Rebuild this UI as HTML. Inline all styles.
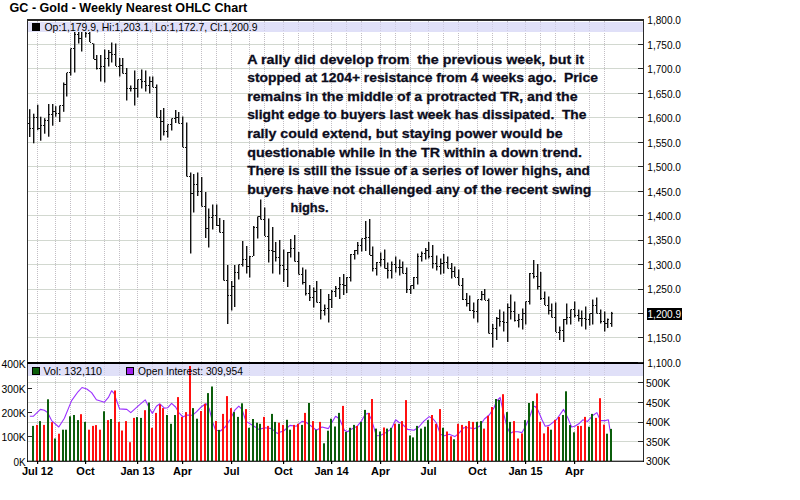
<!DOCTYPE html>
<html><head><meta charset="utf-8"><style>
html,body{margin:0;padding:0;background:#fff;width:800px;height:500px;overflow:hidden;position:relative}
</style></head><body>
<svg width="800" height="500" viewBox="0 0 800 500" style="position:absolute;left:0;top:0">
<rect width="800" height="500" fill="#fff"/>
<rect x="28" y="44" width="610" height="1" fill="#d2d8d0"/>
<rect x="28" y="68" width="610" height="1" fill="#d2d8d0"/>
<rect x="28" y="93" width="610" height="1" fill="#d2d8d0"/>
<rect x="28" y="117" width="610" height="1" fill="#d2d8d0"/>
<rect x="28" y="142" width="610" height="1" fill="#d2d8d0"/>
<rect x="28" y="166" width="610" height="1" fill="#d2d8d0"/>
<rect x="28" y="191" width="610" height="1" fill="#d2d8d0"/>
<rect x="28" y="215" width="610" height="1" fill="#d2d8d0"/>
<rect x="28" y="240" width="610" height="1" fill="#d2d8d0"/>
<rect x="28" y="264" width="610" height="1" fill="#d2d8d0"/>
<rect x="28" y="289" width="610" height="1" fill="#d2d8d0"/>
<rect x="28" y="313" width="610" height="1" fill="#d2d8d0"/>
<rect x="28" y="337" width="610" height="1" fill="#d2d8d0"/>
<rect x="28" y="382" width="610" height="1" fill="#d2d8d0"/>
<rect x="28" y="402" width="610" height="1" fill="#d2d8d0"/>
<rect x="28" y="422" width="610" height="1" fill="#d2d8d0"/>
<rect x="28" y="441" width="610" height="1" fill="#d2d8d0"/>
<line x1="37.5" y1="21" x2="37.5" y2="461" stroke="#c2bec4" stroke-width="1" stroke-dasharray="1,1"/>
<line x1="55.5" y1="21" x2="55.5" y2="461" stroke="#c2bec4" stroke-width="1" stroke-dasharray="1,1"/>
<line x1="70.5" y1="21" x2="70.5" y2="461" stroke="#c2bec4" stroke-width="1" stroke-dasharray="1,1"/>
<line x1="85.5" y1="21" x2="85.5" y2="461" stroke="#c2bec4" stroke-width="1" stroke-dasharray="1,1"/>
<line x1="104.5" y1="21" x2="104.5" y2="461" stroke="#c2bec4" stroke-width="1" stroke-dasharray="1,1"/>
<line x1="119.5" y1="21" x2="119.5" y2="461" stroke="#c2bec4" stroke-width="1" stroke-dasharray="1,1"/>
<line x1="137.5" y1="21" x2="137.5" y2="461" stroke="#c2bec4" stroke-width="1" stroke-dasharray="1,1"/>
<line x1="152.5" y1="21" x2="152.5" y2="461" stroke="#c2bec4" stroke-width="1" stroke-dasharray="1,1"/>
<line x1="167.5" y1="21" x2="167.5" y2="461" stroke="#c2bec4" stroke-width="1" stroke-dasharray="1,1"/>
<line x1="182.5" y1="21" x2="182.5" y2="461" stroke="#c2bec4" stroke-width="1" stroke-dasharray="1,1"/>
<line x1="201.5" y1="21" x2="201.5" y2="461" stroke="#c2bec4" stroke-width="1" stroke-dasharray="1,1"/>
<line x1="216.5" y1="21" x2="216.5" y2="461" stroke="#c2bec4" stroke-width="1" stroke-dasharray="1,1"/>
<line x1="231.5" y1="21" x2="231.5" y2="461" stroke="#c2bec4" stroke-width="1" stroke-dasharray="1,1"/>
<line x1="249.5" y1="21" x2="249.5" y2="461" stroke="#c2bec4" stroke-width="1" stroke-dasharray="1,1"/>
<line x1="264.5" y1="21" x2="264.5" y2="461" stroke="#c2bec4" stroke-width="1" stroke-dasharray="1,1"/>
<line x1="283.5" y1="21" x2="283.5" y2="461" stroke="#c2bec4" stroke-width="1" stroke-dasharray="1,1"/>
<line x1="298.5" y1="21" x2="298.5" y2="461" stroke="#c2bec4" stroke-width="1" stroke-dasharray="1,1"/>
<line x1="313.5" y1="21" x2="313.5" y2="461" stroke="#c2bec4" stroke-width="1" stroke-dasharray="1,1"/>
<line x1="331.5" y1="21" x2="331.5" y2="461" stroke="#c2bec4" stroke-width="1" stroke-dasharray="1,1"/>
<line x1="346.5" y1="21" x2="346.5" y2="461" stroke="#c2bec4" stroke-width="1" stroke-dasharray="1,1"/>
<line x1="361.5" y1="21" x2="361.5" y2="461" stroke="#c2bec4" stroke-width="1" stroke-dasharray="1,1"/>
<line x1="380.5" y1="21" x2="380.5" y2="461" stroke="#c2bec4" stroke-width="1" stroke-dasharray="1,1"/>
<line x1="395.5" y1="21" x2="395.5" y2="461" stroke="#c2bec4" stroke-width="1" stroke-dasharray="1,1"/>
<line x1="410.5" y1="21" x2="410.5" y2="461" stroke="#c2bec4" stroke-width="1" stroke-dasharray="1,1"/>
<line x1="428.5" y1="21" x2="428.5" y2="461" stroke="#c2bec4" stroke-width="1" stroke-dasharray="1,1"/>
<line x1="443.5" y1="21" x2="443.5" y2="461" stroke="#c2bec4" stroke-width="1" stroke-dasharray="1,1"/>
<line x1="458.5" y1="21" x2="458.5" y2="461" stroke="#c2bec4" stroke-width="1" stroke-dasharray="1,1"/>
<line x1="477.5" y1="21" x2="477.5" y2="461" stroke="#c2bec4" stroke-width="1" stroke-dasharray="1,1"/>
<line x1="492.5" y1="21" x2="492.5" y2="461" stroke="#c2bec4" stroke-width="1" stroke-dasharray="1,1"/>
<line x1="507.5" y1="21" x2="507.5" y2="461" stroke="#c2bec4" stroke-width="1" stroke-dasharray="1,1"/>
<line x1="525.5" y1="21" x2="525.5" y2="461" stroke="#c2bec4" stroke-width="1" stroke-dasharray="1,1"/>
<line x1="540.5" y1="21" x2="540.5" y2="461" stroke="#c2bec4" stroke-width="1" stroke-dasharray="1,1"/>
<line x1="555.5" y1="21" x2="555.5" y2="461" stroke="#c2bec4" stroke-width="1" stroke-dasharray="1,1"/>
<line x1="574.5" y1="21" x2="574.5" y2="461" stroke="#c2bec4" stroke-width="1" stroke-dasharray="1,1"/>
<line x1="589.5" y1="21" x2="589.5" y2="461" stroke="#c2bec4" stroke-width="1" stroke-dasharray="1,1"/>
<line x1="604.5" y1="21" x2="604.5" y2="461" stroke="#c2bec4" stroke-width="1" stroke-dasharray="1,1"/>
<rect x="29" y="109.2" width="1.4" height="27.8" fill="#111"/>
<rect x="28" y="123" width="1" height="1" fill="#111"/>
<rect x="30" y="128" width="1" height="1" fill="#111"/>
<rect x="33" y="113.7" width="1.4" height="29.6" fill="#111"/>
<rect x="32" y="128" width="1" height="1" fill="#111"/>
<rect x="34" y="117" width="1" height="1" fill="#111"/>
<rect x="37" y="104.7" width="1.4" height="25.5" fill="#111"/>
<rect x="36" y="117" width="1" height="1" fill="#111"/>
<rect x="38" y="128" width="1" height="1" fill="#111"/>
<rect x="40" y="116.7" width="1.4" height="24.0" fill="#111"/>
<rect x="39" y="128" width="1" height="1" fill="#111"/>
<rect x="41" y="125" width="1" height="1" fill="#111"/>
<rect x="44" y="118.2" width="1.4" height="15.5" fill="#111"/>
<rect x="43" y="125" width="1" height="1" fill="#111"/>
<rect x="45" y="120" width="1" height="1" fill="#111"/>
<rect x="48" y="104.0" width="1.4" height="32.7" fill="#111"/>
<rect x="47" y="120" width="1" height="1" fill="#111"/>
<rect x="49" y="114" width="1" height="1" fill="#111"/>
<rect x="52" y="104.0" width="1.4" height="21.7" fill="#111"/>
<rect x="51" y="114" width="1" height="1" fill="#111"/>
<rect x="53" y="111" width="1" height="1" fill="#111"/>
<rect x="55" y="106.2" width="1.4" height="10.5" fill="#111"/>
<rect x="54" y="111" width="1" height="1" fill="#111"/>
<rect x="56" y="113" width="1" height="1" fill="#111"/>
<rect x="59" y="105.5" width="1.4" height="16.5" fill="#111"/>
<rect x="58" y="113" width="1" height="1" fill="#111"/>
<rect x="60" y="105" width="1" height="1" fill="#111"/>
<rect x="63" y="82.5" width="1.4" height="29.3" fill="#111"/>
<rect x="62" y="105" width="1" height="1" fill="#111"/>
<rect x="64" y="84" width="1" height="1" fill="#111"/>
<rect x="66" y="72.8" width="1.4" height="23.7" fill="#111"/>
<rect x="65" y="84" width="1" height="1" fill="#111"/>
<rect x="67" y="72" width="1" height="1" fill="#111"/>
<rect x="70" y="48.5" width="1.4" height="27.0" fill="#111"/>
<rect x="69" y="72" width="1" height="1" fill="#111"/>
<rect x="71" y="48" width="1" height="1" fill="#111"/>
<rect x="74" y="25.0" width="1.4" height="47.5" fill="#111"/>
<rect x="73" y="48" width="1" height="1" fill="#111"/>
<rect x="75" y="34" width="1" height="1" fill="#111"/>
<rect x="78" y="25.0" width="1.4" height="18.5" fill="#111"/>
<rect x="77" y="34" width="1" height="1" fill="#111"/>
<rect x="79" y="38" width="1" height="1" fill="#111"/>
<rect x="81" y="25.0" width="1.4" height="26.5" fill="#111"/>
<rect x="80" y="38" width="1" height="1" fill="#111"/>
<rect x="82" y="31" width="1" height="1" fill="#111"/>
<rect x="85" y="25.0" width="1.4" height="12.5" fill="#111"/>
<rect x="84" y="31" width="1" height="1" fill="#111"/>
<rect x="86" y="33" width="1" height="1" fill="#111"/>
<rect x="89" y="25.0" width="1.4" height="17.0" fill="#111"/>
<rect x="88" y="33" width="1" height="1" fill="#111"/>
<rect x="90" y="42" width="1" height="1" fill="#111"/>
<rect x="93" y="43.5" width="1.4" height="15.5" fill="#111"/>
<rect x="92" y="43" width="1" height="1" fill="#111"/>
<rect x="94" y="59" width="1" height="1" fill="#111"/>
<rect x="96" y="55.0" width="1.4" height="14.5" fill="#111"/>
<rect x="95" y="59" width="1" height="1" fill="#111"/>
<rect x="97" y="68" width="1" height="1" fill="#111"/>
<rect x="100" y="55.0" width="1.4" height="26.5" fill="#111"/>
<rect x="99" y="68" width="1" height="1" fill="#111"/>
<rect x="101" y="66" width="1" height="1" fill="#111"/>
<rect x="104" y="49.5" width="1.4" height="33.0" fill="#111"/>
<rect x="103" y="66" width="1" height="1" fill="#111"/>
<rect x="105" y="58" width="1" height="1" fill="#111"/>
<rect x="108" y="50.0" width="1.4" height="16.5" fill="#111"/>
<rect x="107" y="58" width="1" height="1" fill="#111"/>
<rect x="109" y="52" width="1" height="1" fill="#111"/>
<rect x="111" y="42.5" width="1.4" height="20.0" fill="#111"/>
<rect x="110" y="52" width="1" height="1" fill="#111"/>
<rect x="112" y="54" width="1" height="1" fill="#111"/>
<rect x="115" y="43.5" width="1.4" height="22.5" fill="#111"/>
<rect x="114" y="54" width="1" height="1" fill="#111"/>
<rect x="116" y="66" width="1" height="1" fill="#111"/>
<rect x="119" y="58.0" width="1.4" height="18.5" fill="#111"/>
<rect x="118" y="66" width="1" height="1" fill="#111"/>
<rect x="120" y="65" width="1" height="1" fill="#111"/>
<rect x="122" y="58.0" width="1.4" height="15.5" fill="#111"/>
<rect x="121" y="65" width="1" height="1" fill="#111"/>
<rect x="123" y="73" width="1" height="1" fill="#111"/>
<rect x="126" y="68.0" width="1.4" height="32.5" fill="#111"/>
<rect x="125" y="73" width="1" height="1" fill="#111"/>
<rect x="127" y="88" width="1" height="1" fill="#111"/>
<rect x="130" y="85.5" width="1.4" height="6.0" fill="#111"/>
<rect x="129" y="88" width="1" height="1" fill="#111"/>
<rect x="131" y="88" width="1" height="1" fill="#111"/>
<rect x="134" y="70.5" width="1.4" height="35.0" fill="#111"/>
<rect x="133" y="88" width="1" height="1" fill="#111"/>
<rect x="135" y="88" width="1" height="1" fill="#111"/>
<rect x="137" y="79.5" width="1.4" height="18.0" fill="#111"/>
<rect x="136" y="88" width="1" height="1" fill="#111"/>
<rect x="138" y="79" width="1" height="1" fill="#111"/>
<rect x="141" y="69.5" width="1.4" height="19.0" fill="#111"/>
<rect x="140" y="79" width="1" height="1" fill="#111"/>
<rect x="142" y="81" width="1" height="1" fill="#111"/>
<rect x="145" y="70.5" width="1.4" height="21.0" fill="#111"/>
<rect x="144" y="81" width="1" height="1" fill="#111"/>
<rect x="146" y="85" width="1" height="1" fill="#111"/>
<rect x="149" y="76.5" width="1.4" height="17.0" fill="#111"/>
<rect x="148" y="85" width="1" height="1" fill="#111"/>
<rect x="150" y="81" width="1" height="1" fill="#111"/>
<rect x="152" y="76.5" width="1.4" height="10.5" fill="#111"/>
<rect x="151" y="81" width="1" height="1" fill="#111"/>
<rect x="153" y="87" width="1" height="1" fill="#111"/>
<rect x="156" y="84.5" width="1.4" height="33.0" fill="#111"/>
<rect x="155" y="87" width="1" height="1" fill="#111"/>
<rect x="157" y="117" width="1" height="1" fill="#111"/>
<rect x="160" y="110.0" width="1.4" height="30.5" fill="#111"/>
<rect x="159" y="117" width="1" height="1" fill="#111"/>
<rect x="161" y="121" width="1" height="1" fill="#111"/>
<rect x="163" y="108.0" width="1.4" height="27.5" fill="#111"/>
<rect x="162" y="121" width="1" height="1" fill="#111"/>
<rect x="164" y="131" width="1" height="1" fill="#111"/>
<rect x="167" y="124.5" width="1.4" height="13.0" fill="#111"/>
<rect x="166" y="131" width="1" height="1" fill="#111"/>
<rect x="168" y="124" width="1" height="1" fill="#111"/>
<rect x="171" y="118.5" width="1.4" height="12.0" fill="#111"/>
<rect x="170" y="124" width="1" height="1" fill="#111"/>
<rect x="172" y="118" width="1" height="1" fill="#111"/>
<rect x="175" y="110.0" width="1.4" height="13.0" fill="#111"/>
<rect x="174" y="118" width="1" height="1" fill="#111"/>
<rect x="176" y="117" width="1" height="1" fill="#111"/>
<rect x="178" y="112.0" width="1.4" height="11.5" fill="#111"/>
<rect x="177" y="117" width="1" height="1" fill="#111"/>
<rect x="179" y="123" width="1" height="1" fill="#111"/>
<rect x="182" y="116.5" width="1.4" height="30.5" fill="#111"/>
<rect x="181" y="123" width="1" height="1" fill="#111"/>
<rect x="183" y="147" width="1" height="1" fill="#111"/>
<rect x="186" y="122.5" width="1.4" height="54.0" fill="#111"/>
<rect x="185" y="147" width="1" height="1" fill="#111"/>
<rect x="187" y="176" width="1" height="1" fill="#111"/>
<rect x="190" y="172.5" width="1.4" height="81.0" fill="#111"/>
<rect x="189" y="176" width="1" height="1" fill="#111"/>
<rect x="191" y="193" width="1" height="1" fill="#111"/>
<rect x="193" y="174.0" width="1.4" height="38.5" fill="#111"/>
<rect x="192" y="193" width="1" height="1" fill="#111"/>
<rect x="194" y="184" width="1" height="1" fill="#111"/>
<rect x="197" y="172.5" width="1.4" height="23.5" fill="#111"/>
<rect x="196" y="184" width="1" height="1" fill="#111"/>
<rect x="198" y="191" width="1" height="1" fill="#111"/>
<rect x="201" y="177.0" width="1.4" height="29.5" fill="#111"/>
<rect x="200" y="191" width="1" height="1" fill="#111"/>
<rect x="202" y="206" width="1" height="1" fill="#111"/>
<rect x="205" y="192.0" width="1.4" height="46.0" fill="#111"/>
<rect x="204" y="206" width="1" height="1" fill="#111"/>
<rect x="206" y="228" width="1" height="1" fill="#111"/>
<rect x="208" y="208.5" width="1.4" height="39.0" fill="#111"/>
<rect x="207" y="228" width="1" height="1" fill="#111"/>
<rect x="209" y="217" width="1" height="1" fill="#111"/>
<rect x="212" y="204.5" width="1.4" height="25.0" fill="#111"/>
<rect x="211" y="217" width="1" height="1" fill="#111"/>
<rect x="213" y="215" width="1" height="1" fill="#111"/>
<rect x="216" y="204.5" width="1.4" height="21.5" fill="#111"/>
<rect x="215" y="215" width="1" height="1" fill="#111"/>
<rect x="217" y="225" width="1" height="1" fill="#111"/>
<rect x="219" y="218.0" width="1.4" height="14.5" fill="#111"/>
<rect x="218" y="225" width="1" height="1" fill="#111"/>
<rect x="220" y="232" width="1" height="1" fill="#111"/>
<rect x="223" y="220.0" width="1.4" height="60.5" fill="#111"/>
<rect x="222" y="232" width="1" height="1" fill="#111"/>
<rect x="224" y="280" width="1" height="1" fill="#111"/>
<rect x="227" y="265.0" width="1.4" height="59.0" fill="#111"/>
<rect x="226" y="280" width="1" height="1" fill="#111"/>
<rect x="228" y="295" width="1" height="1" fill="#111"/>
<rect x="231" y="281.0" width="1.4" height="29.5" fill="#111"/>
<rect x="230" y="295" width="1" height="1" fill="#111"/>
<rect x="232" y="286" width="1" height="1" fill="#111"/>
<rect x="234" y="265.0" width="1.4" height="42.0" fill="#111"/>
<rect x="233" y="286" width="1" height="1" fill="#111"/>
<rect x="235" y="272" width="1" height="1" fill="#111"/>
<rect x="238" y="264.5" width="1.4" height="15.0" fill="#111"/>
<rect x="237" y="272" width="1" height="1" fill="#111"/>
<rect x="239" y="264" width="1" height="1" fill="#111"/>
<rect x="242" y="241.0" width="1.4" height="25.5" fill="#111"/>
<rect x="241" y="264" width="1" height="1" fill="#111"/>
<rect x="243" y="259" width="1" height="1" fill="#111"/>
<rect x="246" y="246.0" width="1.4" height="27.5" fill="#111"/>
<rect x="245" y="259" width="1" height="1" fill="#111"/>
<rect x="247" y="266" width="1" height="1" fill="#111"/>
<rect x="249" y="256.0" width="1.4" height="21.5" fill="#111"/>
<rect x="248" y="266" width="1" height="1" fill="#111"/>
<rect x="250" y="256" width="1" height="1" fill="#111"/>
<rect x="253" y="226.0" width="1.4" height="30.0" fill="#111"/>
<rect x="252" y="256" width="1" height="1" fill="#111"/>
<rect x="254" y="227" width="1" height="1" fill="#111"/>
<rect x="257" y="216.5" width="1.4" height="22.0" fill="#111"/>
<rect x="256" y="227" width="1" height="1" fill="#111"/>
<rect x="258" y="216" width="1" height="1" fill="#111"/>
<rect x="260" y="199.5" width="1.4" height="20.0" fill="#111"/>
<rect x="259" y="216" width="1" height="1" fill="#111"/>
<rect x="261" y="219" width="1" height="1" fill="#111"/>
<rect x="264" y="207.5" width="1.4" height="28.5" fill="#111"/>
<rect x="263" y="219" width="1" height="1" fill="#111"/>
<rect x="265" y="236" width="1" height="1" fill="#111"/>
<rect x="268" y="218.5" width="1.4" height="44.0" fill="#111"/>
<rect x="267" y="236" width="1" height="1" fill="#111"/>
<rect x="269" y="250" width="1" height="1" fill="#111"/>
<rect x="272" y="227.0" width="1.4" height="46.5" fill="#111"/>
<rect x="271" y="250" width="1" height="1" fill="#111"/>
<rect x="273" y="251" width="1" height="1" fill="#111"/>
<rect x="275" y="242.0" width="1.4" height="19.5" fill="#111"/>
<rect x="274" y="251" width="1" height="1" fill="#111"/>
<rect x="276" y="257" width="1" height="1" fill="#111"/>
<rect x="279" y="240.0" width="1.4" height="34.5" fill="#111"/>
<rect x="278" y="257" width="1" height="1" fill="#111"/>
<rect x="280" y="265" width="1" height="1" fill="#111"/>
<rect x="283" y="249.5" width="1.4" height="32.5" fill="#111"/>
<rect x="282" y="265" width="1" height="1" fill="#111"/>
<rect x="284" y="269" width="1" height="1" fill="#111"/>
<rect x="287" y="252.0" width="1.4" height="35.0" fill="#111"/>
<rect x="286" y="269" width="1" height="1" fill="#111"/>
<rect x="288" y="252" width="1" height="1" fill="#111"/>
<rect x="290" y="239.0" width="1.4" height="18.5" fill="#111"/>
<rect x="289" y="252" width="1" height="1" fill="#111"/>
<rect x="291" y="248" width="1" height="1" fill="#111"/>
<rect x="294" y="235.0" width="1.4" height="26.5" fill="#111"/>
<rect x="293" y="248" width="1" height="1" fill="#111"/>
<rect x="295" y="261" width="1" height="1" fill="#111"/>
<rect x="298" y="252.0" width="1.4" height="22.5" fill="#111"/>
<rect x="297" y="261" width="1" height="1" fill="#111"/>
<rect x="299" y="274" width="1" height="1" fill="#111"/>
<rect x="302" y="267.5" width="1.4" height="17.0" fill="#111"/>
<rect x="301" y="274" width="1" height="1" fill="#111"/>
<rect x="303" y="282" width="1" height="1" fill="#111"/>
<rect x="305" y="269.5" width="1.4" height="26.0" fill="#111"/>
<rect x="304" y="282" width="1" height="1" fill="#111"/>
<rect x="306" y="293" width="1" height="1" fill="#111"/>
<rect x="309" y="285.0" width="1.4" height="16.0" fill="#111"/>
<rect x="308" y="293" width="1" height="1" fill="#111"/>
<rect x="310" y="297" width="1" height="1" fill="#111"/>
<rect x="313" y="287.5" width="1.4" height="20.0" fill="#111"/>
<rect x="312" y="297" width="1" height="1" fill="#111"/>
<rect x="314" y="291" width="1" height="1" fill="#111"/>
<rect x="316" y="281.0" width="1.4" height="21.5" fill="#111"/>
<rect x="315" y="291" width="1" height="1" fill="#111"/>
<rect x="317" y="302" width="1" height="1" fill="#111"/>
<rect x="320" y="289.0" width="1.4" height="30.5" fill="#111"/>
<rect x="319" y="302" width="1" height="1" fill="#111"/>
<rect x="321" y="310" width="1" height="1" fill="#111"/>
<rect x="324" y="304.5" width="1.4" height="11.0" fill="#111"/>
<rect x="323" y="310" width="1" height="1" fill="#111"/>
<rect x="325" y="308" width="1" height="1" fill="#111"/>
<rect x="328" y="294.0" width="1.4" height="28.5" fill="#111"/>
<rect x="327" y="308" width="1" height="1" fill="#111"/>
<rect x="329" y="299" width="1" height="1" fill="#111"/>
<rect x="331" y="290.0" width="1.4" height="18.0" fill="#111"/>
<rect x="330" y="299" width="1" height="1" fill="#111"/>
<rect x="332" y="291" width="1" height="1" fill="#111"/>
<rect x="335" y="286.0" width="1.4" height="11.0" fill="#111"/>
<rect x="334" y="291" width="1" height="1" fill="#111"/>
<rect x="336" y="288" width="1" height="1" fill="#111"/>
<rect x="339" y="277.0" width="1.4" height="22.0" fill="#111"/>
<rect x="338" y="288" width="1" height="1" fill="#111"/>
<rect x="340" y="284" width="1" height="1" fill="#111"/>
<rect x="343" y="274.0" width="1.4" height="21.0" fill="#111"/>
<rect x="342" y="284" width="1" height="1" fill="#111"/>
<rect x="344" y="285" width="1" height="1" fill="#111"/>
<rect x="346" y="277.0" width="1.4" height="16.0" fill="#111"/>
<rect x="345" y="285" width="1" height="1" fill="#111"/>
<rect x="347" y="277" width="1" height="1" fill="#111"/>
<rect x="350" y="254.0" width="1.4" height="27.5" fill="#111"/>
<rect x="349" y="277" width="1" height="1" fill="#111"/>
<rect x="351" y="254" width="1" height="1" fill="#111"/>
<rect x="354" y="250.0" width="1.4" height="9.5" fill="#111"/>
<rect x="353" y="254" width="1" height="1" fill="#111"/>
<rect x="355" y="250" width="1" height="1" fill="#111"/>
<rect x="357" y="242.0" width="1.4" height="12.5" fill="#111"/>
<rect x="356" y="250" width="1" height="1" fill="#111"/>
<rect x="358" y="245" width="1" height="1" fill="#111"/>
<rect x="361" y="238.5" width="1.4" height="13.0" fill="#111"/>
<rect x="360" y="245" width="1" height="1" fill="#111"/>
<rect x="362" y="238" width="1" height="1" fill="#111"/>
<rect x="365" y="221.0" width="1.4" height="30.0" fill="#111"/>
<rect x="364" y="238" width="1" height="1" fill="#111"/>
<rect x="366" y="237" width="1" height="1" fill="#111"/>
<rect x="369" y="219.0" width="1.4" height="36.0" fill="#111"/>
<rect x="368" y="237" width="1" height="1" fill="#111"/>
<rect x="370" y="255" width="1" height="1" fill="#111"/>
<rect x="372" y="246.5" width="1.4" height="25.0" fill="#111"/>
<rect x="371" y="255" width="1" height="1" fill="#111"/>
<rect x="373" y="268" width="1" height="1" fill="#111"/>
<rect x="376" y="262.0" width="1.4" height="13.5" fill="#111"/>
<rect x="375" y="268" width="1" height="1" fill="#111"/>
<rect x="377" y="262" width="1" height="1" fill="#111"/>
<rect x="380" y="252.5" width="1.4" height="14.0" fill="#111"/>
<rect x="379" y="262" width="1" height="1" fill="#111"/>
<rect x="381" y="259" width="1" height="1" fill="#111"/>
<rect x="384" y="249.5" width="1.4" height="19.0" fill="#111"/>
<rect x="383" y="259" width="1" height="1" fill="#111"/>
<rect x="385" y="268" width="1" height="1" fill="#111"/>
<rect x="387" y="262.5" width="1.4" height="16.0" fill="#111"/>
<rect x="386" y="268" width="1" height="1" fill="#111"/>
<rect x="388" y="270" width="1" height="1" fill="#111"/>
<rect x="391" y="261.5" width="1.4" height="17.0" fill="#111"/>
<rect x="390" y="270" width="1" height="1" fill="#111"/>
<rect x="392" y="264" width="1" height="1" fill="#111"/>
<rect x="395" y="256.5" width="1.4" height="16.0" fill="#111"/>
<rect x="394" y="264" width="1" height="1" fill="#111"/>
<rect x="396" y="267" width="1" height="1" fill="#111"/>
<rect x="399" y="259.5" width="1.4" height="16.0" fill="#111"/>
<rect x="398" y="267" width="1" height="1" fill="#111"/>
<rect x="400" y="267" width="1" height="1" fill="#111"/>
<rect x="402" y="261.5" width="1.4" height="12.0" fill="#111"/>
<rect x="401" y="267" width="1" height="1" fill="#111"/>
<rect x="403" y="273" width="1" height="1" fill="#111"/>
<rect x="406" y="267.5" width="1.4" height="25.5" fill="#111"/>
<rect x="405" y="273" width="1" height="1" fill="#111"/>
<rect x="407" y="289" width="1" height="1" fill="#111"/>
<rect x="410" y="285.5" width="1.4" height="8.5" fill="#111"/>
<rect x="409" y="289" width="1" height="1" fill="#111"/>
<rect x="411" y="285" width="1" height="1" fill="#111"/>
<rect x="413" y="277.0" width="1.4" height="12.0" fill="#111"/>
<rect x="412" y="285" width="1" height="1" fill="#111"/>
<rect x="414" y="277" width="1" height="1" fill="#111"/>
<rect x="417" y="253.5" width="1.4" height="31.0" fill="#111"/>
<rect x="416" y="277" width="1" height="1" fill="#111"/>
<rect x="418" y="256" width="1" height="1" fill="#111"/>
<rect x="421" y="251.5" width="1.4" height="10.0" fill="#111"/>
<rect x="420" y="256" width="1" height="1" fill="#111"/>
<rect x="422" y="253" width="1" height="1" fill="#111"/>
<rect x="425" y="248.0" width="1.4" height="11.5" fill="#111"/>
<rect x="424" y="253" width="1" height="1" fill="#111"/>
<rect x="426" y="250" width="1" height="1" fill="#111"/>
<rect x="428" y="242.0" width="1.4" height="16.5" fill="#111"/>
<rect x="427" y="250" width="1" height="1" fill="#111"/>
<rect x="429" y="256" width="1" height="1" fill="#111"/>
<rect x="432" y="245.0" width="1.4" height="23.5" fill="#111"/>
<rect x="431" y="256" width="1" height="1" fill="#111"/>
<rect x="433" y="263" width="1" height="1" fill="#111"/>
<rect x="436" y="255.5" width="1.4" height="15.0" fill="#111"/>
<rect x="435" y="263" width="1" height="1" fill="#111"/>
<rect x="437" y="266" width="1" height="1" fill="#111"/>
<rect x="440" y="258.5" width="1.4" height="16.0" fill="#111"/>
<rect x="439" y="266" width="1" height="1" fill="#111"/>
<rect x="441" y="263" width="1" height="1" fill="#111"/>
<rect x="443" y="254.0" width="1.4" height="19.5" fill="#111"/>
<rect x="442" y="263" width="1" height="1" fill="#111"/>
<rect x="444" y="262" width="1" height="1" fill="#111"/>
<rect x="447" y="256.5" width="1.4" height="12.0" fill="#111"/>
<rect x="446" y="262" width="1" height="1" fill="#111"/>
<rect x="448" y="268" width="1" height="1" fill="#111"/>
<rect x="451" y="263.0" width="1.4" height="15.5" fill="#111"/>
<rect x="450" y="268" width="1" height="1" fill="#111"/>
<rect x="452" y="271" width="1" height="1" fill="#111"/>
<rect x="454" y="266.5" width="1.4" height="10.5" fill="#111"/>
<rect x="453" y="271" width="1" height="1" fill="#111"/>
<rect x="455" y="277" width="1" height="1" fill="#111"/>
<rect x="458" y="269.5" width="1.4" height="15.5" fill="#111"/>
<rect x="457" y="277" width="1" height="1" fill="#111"/>
<rect x="459" y="285" width="1" height="1" fill="#111"/>
<rect x="462" y="278.0" width="1.4" height="22.0" fill="#111"/>
<rect x="461" y="285" width="1" height="1" fill="#111"/>
<rect x="463" y="299" width="1" height="1" fill="#111"/>
<rect x="466" y="293.0" width="1.4" height="13.5" fill="#111"/>
<rect x="465" y="299" width="1" height="1" fill="#111"/>
<rect x="467" y="303" width="1" height="1" fill="#111"/>
<rect x="469" y="295.5" width="1.4" height="15.5" fill="#111"/>
<rect x="468" y="303" width="1" height="1" fill="#111"/>
<rect x="470" y="310" width="1" height="1" fill="#111"/>
<rect x="473" y="302.5" width="1.4" height="16.0" fill="#111"/>
<rect x="472" y="310" width="1" height="1" fill="#111"/>
<rect x="474" y="311" width="1" height="1" fill="#111"/>
<rect x="477" y="299.5" width="1.4" height="23.0" fill="#111"/>
<rect x="476" y="311" width="1" height="1" fill="#111"/>
<rect x="478" y="299" width="1" height="1" fill="#111"/>
<rect x="481" y="291.0" width="1.4" height="9.5" fill="#111"/>
<rect x="480" y="299" width="1" height="1" fill="#111"/>
<rect x="482" y="294" width="1" height="1" fill="#111"/>
<rect x="484" y="289.0" width="1.4" height="11.0" fill="#111"/>
<rect x="483" y="294" width="1" height="1" fill="#111"/>
<rect x="485" y="300" width="1" height="1" fill="#111"/>
<rect x="488" y="298.5" width="1.4" height="35.0" fill="#111"/>
<rect x="487" y="300" width="1" height="1" fill="#111"/>
<rect x="489" y="333" width="1" height="1" fill="#111"/>
<rect x="492" y="324.0" width="1.4" height="23.5" fill="#111"/>
<rect x="491" y="333" width="1" height="1" fill="#111"/>
<rect x="493" y="328" width="1" height="1" fill="#111"/>
<rect x="496" y="317.0" width="1.4" height="23.0" fill="#111"/>
<rect x="495" y="328" width="1" height="1" fill="#111"/>
<rect x="497" y="318" width="1" height="1" fill="#111"/>
<rect x="499" y="309.5" width="1.4" height="17.0" fill="#111"/>
<rect x="498" y="318" width="1" height="1" fill="#111"/>
<rect x="500" y="321" width="1" height="1" fill="#111"/>
<rect x="503" y="311.5" width="1.4" height="20.0" fill="#111"/>
<rect x="502" y="321" width="1" height="1" fill="#111"/>
<rect x="504" y="322" width="1" height="1" fill="#111"/>
<rect x="507" y="303.5" width="1.4" height="38.5" fill="#111"/>
<rect x="506" y="322" width="1" height="1" fill="#111"/>
<rect x="508" y="307" width="1" height="1" fill="#111"/>
<rect x="510" y="294.5" width="1.4" height="25.0" fill="#111"/>
<rect x="509" y="307" width="1" height="1" fill="#111"/>
<rect x="511" y="311" width="1" height="1" fill="#111"/>
<rect x="514" y="301.5" width="1.4" height="20.0" fill="#111"/>
<rect x="513" y="311" width="1" height="1" fill="#111"/>
<rect x="515" y="320" width="1" height="1" fill="#111"/>
<rect x="518" y="314.0" width="1.4" height="13.5" fill="#111"/>
<rect x="517" y="320" width="1" height="1" fill="#111"/>
<rect x="519" y="319" width="1" height="1" fill="#111"/>
<rect x="522" y="308.5" width="1.4" height="21.0" fill="#111"/>
<rect x="521" y="319" width="1" height="1" fill="#111"/>
<rect x="523" y="313" width="1" height="1" fill="#111"/>
<rect x="525" y="301.5" width="1.4" height="23.0" fill="#111"/>
<rect x="524" y="313" width="1" height="1" fill="#111"/>
<rect x="526" y="301" width="1" height="1" fill="#111"/>
<rect x="529" y="273.0" width="1.4" height="31.5" fill="#111"/>
<rect x="528" y="301" width="1" height="1" fill="#111"/>
<rect x="530" y="273" width="1" height="1" fill="#111"/>
<rect x="533" y="260.0" width="1.4" height="18.5" fill="#111"/>
<rect x="532" y="273" width="1" height="1" fill="#111"/>
<rect x="534" y="276" width="1" height="1" fill="#111"/>
<rect x="537" y="264.0" width="1.4" height="25.5" fill="#111"/>
<rect x="536" y="276" width="1" height="1" fill="#111"/>
<rect x="538" y="286" width="1" height="1" fill="#111"/>
<rect x="540" y="272.0" width="1.4" height="28.0" fill="#111"/>
<rect x="539" y="286" width="1" height="1" fill="#111"/>
<rect x="541" y="298" width="1" height="1" fill="#111"/>
<rect x="544" y="291.5" width="1.4" height="13.5" fill="#111"/>
<rect x="543" y="298" width="1" height="1" fill="#111"/>
<rect x="545" y="305" width="1" height="1" fill="#111"/>
<rect x="548" y="296.5" width="1.4" height="18.0" fill="#111"/>
<rect x="547" y="305" width="1" height="1" fill="#111"/>
<rect x="549" y="310" width="1" height="1" fill="#111"/>
<rect x="551" y="303.5" width="1.4" height="14.0" fill="#111"/>
<rect x="550" y="310" width="1" height="1" fill="#111"/>
<rect x="552" y="317" width="1" height="1" fill="#111"/>
<rect x="555" y="302.5" width="1.4" height="29.5" fill="#111"/>
<rect x="554" y="317" width="1" height="1" fill="#111"/>
<rect x="556" y="332" width="1" height="1" fill="#111"/>
<rect x="559" y="326.5" width="1.4" height="13.5" fill="#111"/>
<rect x="558" y="332" width="1" height="1" fill="#111"/>
<rect x="560" y="330" width="1" height="1" fill="#111"/>
<rect x="563" y="319.0" width="1.4" height="23.0" fill="#111"/>
<rect x="562" y="330" width="1" height="1" fill="#111"/>
<rect x="564" y="319" width="1" height="1" fill="#111"/>
<rect x="566" y="303.5" width="1.4" height="21.0" fill="#111"/>
<rect x="565" y="319" width="1" height="1" fill="#111"/>
<rect x="567" y="317" width="1" height="1" fill="#111"/>
<rect x="570" y="309.5" width="1.4" height="15.0" fill="#111"/>
<rect x="569" y="317" width="1" height="1" fill="#111"/>
<rect x="571" y="309" width="1" height="1" fill="#111"/>
<rect x="574" y="301.5" width="1.4" height="16.0" fill="#111"/>
<rect x="573" y="309" width="1" height="1" fill="#111"/>
<rect x="575" y="315" width="1" height="1" fill="#111"/>
<rect x="578" y="309.5" width="1.4" height="12.0" fill="#111"/>
<rect x="577" y="315" width="1" height="1" fill="#111"/>
<rect x="579" y="318" width="1" height="1" fill="#111"/>
<rect x="581" y="310.5" width="1.4" height="16.0" fill="#111"/>
<rect x="580" y="318" width="1" height="1" fill="#111"/>
<rect x="582" y="318" width="1" height="1" fill="#111"/>
<rect x="585" y="306.5" width="1.4" height="23.0" fill="#111"/>
<rect x="584" y="318" width="1" height="1" fill="#111"/>
<rect x="586" y="319" width="1" height="1" fill="#111"/>
<rect x="589" y="313.5" width="1.4" height="12.0" fill="#111"/>
<rect x="588" y="319" width="1" height="1" fill="#111"/>
<rect x="590" y="313" width="1" height="1" fill="#111"/>
<rect x="592" y="299.5" width="1.4" height="25.0" fill="#111"/>
<rect x="591" y="313" width="1" height="1" fill="#111"/>
<rect x="593" y="305" width="1" height="1" fill="#111"/>
<rect x="596" y="297.5" width="1.4" height="16.0" fill="#111"/>
<rect x="595" y="305" width="1" height="1" fill="#111"/>
<rect x="597" y="313" width="1" height="1" fill="#111"/>
<rect x="600" y="309.5" width="1.4" height="14.0" fill="#111"/>
<rect x="599" y="313" width="1" height="1" fill="#111"/>
<rect x="601" y="321" width="1" height="1" fill="#111"/>
<rect x="604" y="311.5" width="1.4" height="20.0" fill="#111"/>
<rect x="603" y="321" width="1" height="1" fill="#111"/>
<rect x="605" y="323" width="1" height="1" fill="#111"/>
<rect x="607" y="318.5" width="1.4" height="9.5" fill="#111"/>
<rect x="606" y="323" width="1" height="1" fill="#111"/>
<rect x="608" y="319" width="1" height="1" fill="#111"/>
<rect x="611" y="311.9" width="1.4" height="14.9" fill="#111"/>
<rect x="610" y="323" width="1" height="1" fill="#111"/>
<rect x="612" y="313" width="1" height="1" fill="#111"/>
<polyline points="29.8,416.3 33.2,416.3 40.4,409.4 44.4,410.2 47.6,412.6 51.6,420.6 58.8,427.0 64.4,418.2 71.6,400.6 78.0,391.8 82.0,387.5 86.8,389.0 91.6,392.6 96.4,399.8 104.4,402.2 108.4,397.4 111.6,390.7 114.0,393.4 117.2,402.2 119.6,408.9 126.8,409.4 130.8,412.6 138.0,406.2 145.2,399.8 150.0,409.4 152.4,413.4 156.4,406.2 159.9,403.8 164.4,408.1 167.6,407.8 171.6,403.3 175.6,407.0 178.8,412.6 182.8,416.9 186.8,415.0 192.4,415.3 196.4,411.8 201.2,407.0 206.0,403.5 209.2,408.6 212.4,421.4 215.6,430.2 220.4,431.0 225.2,427.0 230.0,419.8 234.8,410.2 238.8,406.2 242.0,409.4 246.0,421.4 250.0,423.8 254.0,426.2 258.8,429.4 265.2,427.8 271.6,428.6 277.2,433.4 278.8,432.6 283.6,431.0 290.0,425.4 296.4,426.2 302.0,421.4 306.0,422.2 312.4,427.0 316.4,430.2 322.0,427.0 328.4,428.6 331.6,423.0 335.6,416.3 339.6,419.0 344.4,430.2 347.6,431.8 350.8,429.4 357.2,426.2 361.2,421.4 365.2,414.2 368.4,413.4 371.6,419.8 376.4,435.8 380.4,435.5 386.0,432.6 391.6,428.6 395.6,419.8 398.8,422.2 401.2,423.0 407.6,429.4 414.0,430.2 418.8,427.0 423.6,421.4 429.2,416.6 433.2,419.0 436.4,423.0 440.4,434.2 444.4,435.8 449.2,434.2 454.8,436.6 458.8,433.4 463.6,427.8 468.4,427.8 474.8,428.6 479.6,426.2 484.4,419.0 489.2,415.0 494.0,407.8 496.4,401.4 500.1,397.4 503.6,413.4 506.8,426.2 510.0,433.4 513.2,431.8 518.0,431.8 522.0,432.6 525.2,427.0 529.2,418.2 533.2,407.0 534.8,406.2 538.0,410.2 542.0,419.8 545.2,426.2 549.2,425.4 556.4,419.8 563.6,409.4 567.6,417.4 571.6,427.0 574.8,426.2 578.8,423.8 582.8,419.8 587.6,421.4 592.4,415.8 596.9,412.6 600.4,420.6 605.2,420.6 608.4,419.8 610.8,435.0" fill="none" stroke="#9b30ff" stroke-width="1.1" stroke-linejoin="round"/>
<rect x="32.0" y="425.9" width="2" height="35.1" fill="#0b5e0b"/>
<rect x="36.0" y="424.9" width="2" height="36.1" fill="#ff1010"/>
<rect x="39.0" y="421.1" width="2" height="39.9" fill="#0b5e0b"/>
<rect x="43.0" y="424.9" width="2" height="36.1" fill="#ff1010"/>
<rect x="47.0" y="399.3" width="2" height="61.7" fill="#0b5e0b"/>
<rect x="51.0" y="422.2" width="2" height="38.8" fill="#ff1010"/>
<rect x="54.0" y="438.5" width="2" height="22.5" fill="#0b5e0b"/>
<rect x="58.0" y="433.7" width="2" height="27.3" fill="#ff1010"/>
<rect x="62.0" y="429.7" width="2" height="31.3" fill="#0b5e0b"/>
<rect x="65.0" y="429.7" width="2" height="31.3" fill="#0b5e0b"/>
<rect x="69.0" y="416.3" width="2" height="44.7" fill="#0b5e0b"/>
<rect x="73.0" y="415.0" width="2" height="46.0" fill="#0b5e0b"/>
<rect x="77.0" y="420.1" width="2" height="40.9" fill="#0b5e0b"/>
<rect x="80.0" y="414.2" width="2" height="46.8" fill="#ff1010"/>
<rect x="84.0" y="421.9" width="2" height="39.1" fill="#0b5e0b"/>
<rect x="88.0" y="429.7" width="2" height="31.3" fill="#ff1010"/>
<rect x="92.0" y="425.9" width="2" height="35.1" fill="#ff1010"/>
<rect x="95.0" y="425.1" width="2" height="35.9" fill="#ff1010"/>
<rect x="99.0" y="429.7" width="2" height="31.3" fill="#ff1010"/>
<rect x="103.0" y="411.3" width="2" height="49.7" fill="#0b5e0b"/>
<rect x="107.0" y="420.1" width="2" height="40.9" fill="#ff1010"/>
<rect x="110.0" y="419.0" width="2" height="42.0" fill="#0b5e0b"/>
<rect x="114.0" y="390.5" width="2" height="70.5" fill="#ff1010"/>
<rect x="118.0" y="421.9" width="2" height="39.1" fill="#ff1010"/>
<rect x="121.0" y="430.5" width="2" height="30.5" fill="#ff1010"/>
<rect x="125.0" y="421.1" width="2" height="39.9" fill="#ff1010"/>
<rect x="129.0" y="442.2" width="2" height="18.8" fill="#ff1010"/>
<rect x="133.0" y="417.9" width="2" height="43.1" fill="#ff1010"/>
<rect x="136.0" y="417.1" width="2" height="43.9" fill="#0b5e0b"/>
<rect x="140.0" y="417.9" width="2" height="43.1" fill="#0b5e0b"/>
<rect x="144.0" y="410.2" width="2" height="50.8" fill="#ff1010"/>
<rect x="148.0" y="402.5" width="2" height="58.5" fill="#0b5e0b"/>
<rect x="151.0" y="427.8" width="2" height="33.2" fill="#ff1010"/>
<rect x="155.0" y="412.9" width="2" height="48.1" fill="#ff1010"/>
<rect x="159.0" y="404.6" width="2" height="56.4" fill="#ff1010"/>
<rect x="162.0" y="408.1" width="2" height="52.9" fill="#ff1010"/>
<rect x="166.0" y="415.0" width="2" height="46.0" fill="#0b5e0b"/>
<rect x="170.0" y="423.8" width="2" height="37.2" fill="#0b5e0b"/>
<rect x="174.0" y="415.0" width="2" height="46.0" fill="#0b5e0b"/>
<rect x="177.0" y="397.1" width="2" height="63.9" fill="#ff1010"/>
<rect x="181.0" y="416.9" width="2" height="44.1" fill="#ff1010"/>
<rect x="185.0" y="412.1" width="2" height="48.9" fill="#ff1010"/>
<rect x="189.0" y="366.0" width="2" height="95.0" fill="#ff1010"/>
<rect x="192.0" y="408.1" width="2" height="52.9" fill="#0b5e0b"/>
<rect x="196.0" y="418.7" width="2" height="42.3" fill="#0b5e0b"/>
<rect x="200.0" y="411.0" width="2" height="50.0" fill="#ff1010"/>
<rect x="204.0" y="403.8" width="2" height="57.2" fill="#ff1010"/>
<rect x="207.0" y="393.1" width="2" height="67.9" fill="#0b5e0b"/>
<rect x="211.0" y="386.5" width="2" height="74.5" fill="#0b5e0b"/>
<rect x="215.0" y="420.9" width="2" height="40.1" fill="#ff1010"/>
<rect x="218.0" y="429.9" width="2" height="31.1" fill="#0b5e0b"/>
<rect x="222.0" y="413.9" width="2" height="47.1" fill="#ff1010"/>
<rect x="226.0" y="396.1" width="2" height="64.9" fill="#ff1010"/>
<rect x="230.0" y="408.1" width="2" height="52.9" fill="#ff1010"/>
<rect x="233.0" y="412.1" width="2" height="48.9" fill="#0b5e0b"/>
<rect x="237.0" y="416.9" width="2" height="44.1" fill="#0b5e0b"/>
<rect x="241.0" y="403.3" width="2" height="57.7" fill="#0b5e0b"/>
<rect x="245.0" y="409.1" width="2" height="51.9" fill="#ff1010"/>
<rect x="248.0" y="427.8" width="2" height="33.2" fill="#0b5e0b"/>
<rect x="252.0" y="419.0" width="2" height="42.0" fill="#0b5e0b"/>
<rect x="256.0" y="422.7" width="2" height="38.3" fill="#0b5e0b"/>
<rect x="259.0" y="423.8" width="2" height="37.2" fill="#0b5e0b"/>
<rect x="263.0" y="416.9" width="2" height="44.1" fill="#ff1010"/>
<rect x="267.0" y="425.9" width="2" height="35.1" fill="#ff1010"/>
<rect x="271.0" y="413.9" width="2" height="47.1" fill="#0b5e0b"/>
<rect x="274.0" y="421.9" width="2" height="39.1" fill="#0b5e0b"/>
<rect x="278.0" y="422.7" width="2" height="38.3" fill="#ff1010"/>
<rect x="282.0" y="424.9" width="2" height="36.1" fill="#ff1010"/>
<rect x="286.0" y="419.8" width="2" height="41.2" fill="#0b5e0b"/>
<rect x="289.0" y="429.7" width="2" height="31.3" fill="#0b5e0b"/>
<rect x="293.0" y="424.9" width="2" height="36.1" fill="#ff1010"/>
<rect x="297.0" y="423.8" width="2" height="37.2" fill="#ff1010"/>
<rect x="301.0" y="424.9" width="2" height="36.1" fill="#0b5e0b"/>
<rect x="304.0" y="412.9" width="2" height="48.1" fill="#ff1010"/>
<rect x="308.0" y="403.0" width="2" height="58.0" fill="#0b5e0b"/>
<rect x="312.0" y="421.1" width="2" height="39.9" fill="#ff1010"/>
<rect x="315.0" y="429.7" width="2" height="31.3" fill="#0b5e0b"/>
<rect x="319.0" y="421.9" width="2" height="39.1" fill="#ff1010"/>
<rect x="323.0" y="443.3" width="2" height="17.7" fill="#0b5e0b"/>
<rect x="327.0" y="430.7" width="2" height="30.3" fill="#0b5e0b"/>
<rect x="330.0" y="418.7" width="2" height="42.3" fill="#0b5e0b"/>
<rect x="334.0" y="426.5" width="2" height="34.5" fill="#0b5e0b"/>
<rect x="338.0" y="412.9" width="2" height="48.1" fill="#0b5e0b"/>
<rect x="342.0" y="405.9" width="2" height="55.1" fill="#ff1010"/>
<rect x="345.0" y="431.8" width="2" height="29.2" fill="#0b5e0b"/>
<rect x="349.0" y="427.8" width="2" height="33.2" fill="#0b5e0b"/>
<rect x="353.0" y="424.9" width="2" height="36.1" fill="#0b5e0b"/>
<rect x="356.0" y="425.9" width="2" height="35.1" fill="#ff1010"/>
<rect x="360.0" y="421.9" width="2" height="39.1" fill="#0b5e0b"/>
<rect x="364.0" y="409.9" width="2" height="51.1" fill="#0b5e0b"/>
<rect x="368.0" y="412.9" width="2" height="48.1" fill="#ff1010"/>
<rect x="371.0" y="399.0" width="2" height="62.0" fill="#ff1010"/>
<rect x="375.0" y="428.6" width="2" height="32.4" fill="#0b5e0b"/>
<rect x="379.0" y="431.5" width="2" height="29.5" fill="#0b5e0b"/>
<rect x="383.0" y="427.5" width="2" height="33.5" fill="#ff1010"/>
<rect x="386.0" y="428.6" width="2" height="32.4" fill="#0b5e0b"/>
<rect x="390.0" y="427.8" width="2" height="33.2" fill="#0b5e0b"/>
<rect x="394.0" y="423.8" width="2" height="37.2" fill="#ff1010"/>
<rect x="398.0" y="423.8" width="2" height="37.2" fill="#0b5e0b"/>
<rect x="401.0" y="421.1" width="2" height="39.9" fill="#ff1010"/>
<rect x="405.0" y="400.1" width="2" height="60.9" fill="#ff1010"/>
<rect x="409.0" y="435.5" width="2" height="25.5" fill="#0b5e0b"/>
<rect x="412.0" y="437.4" width="2" height="23.6" fill="#0b5e0b"/>
<rect x="416.0" y="425.9" width="2" height="35.1" fill="#0b5e0b"/>
<rect x="420.0" y="428.6" width="2" height="32.4" fill="#0b5e0b"/>
<rect x="424.0" y="426.7" width="2" height="34.3" fill="#0b5e0b"/>
<rect x="427.0" y="420.1" width="2" height="40.9" fill="#0b5e0b"/>
<rect x="431.0" y="415.0" width="2" height="46.0" fill="#ff1010"/>
<rect x="435.0" y="423.8" width="2" height="37.2" fill="#ff1010"/>
<rect x="439.0" y="409.1" width="2" height="51.9" fill="#ff1010"/>
<rect x="442.0" y="427.8" width="2" height="33.2" fill="#0b5e0b"/>
<rect x="446.0" y="431.5" width="2" height="29.5" fill="#ff1010"/>
<rect x="450.0" y="436.3" width="2" height="24.7" fill="#ff1010"/>
<rect x="453.0" y="439.3" width="2" height="21.7" fill="#0b5e0b"/>
<rect x="457.0" y="423.8" width="2" height="37.2" fill="#ff1010"/>
<rect x="461.0" y="424.9" width="2" height="36.1" fill="#ff1010"/>
<rect x="465.0" y="425.9" width="2" height="35.1" fill="#ff1010"/>
<rect x="468.0" y="421.1" width="2" height="39.9" fill="#ff1010"/>
<rect x="472.0" y="421.9" width="2" height="39.1" fill="#ff1010"/>
<rect x="476.0" y="421.9" width="2" height="39.1" fill="#0b5e0b"/>
<rect x="480.0" y="421.1" width="2" height="39.9" fill="#0b5e0b"/>
<rect x="483.0" y="428.6" width="2" height="32.4" fill="#ff1010"/>
<rect x="487.0" y="415.8" width="2" height="45.2" fill="#ff1010"/>
<rect x="491.0" y="407.0" width="2" height="54.0" fill="#ff1010"/>
<rect x="495.0" y="399.0" width="2" height="62.0" fill="#0b5e0b"/>
<rect x="498.0" y="399.8" width="2" height="61.2" fill="#0b5e0b"/>
<rect x="502.0" y="394.2" width="2" height="66.8" fill="#ff1010"/>
<rect x="506.0" y="412.1" width="2" height="48.9" fill="#0b5e0b"/>
<rect x="509.0" y="421.9" width="2" height="39.1" fill="#0b5e0b"/>
<rect x="513.0" y="421.1" width="2" height="39.9" fill="#ff1010"/>
<rect x="517.0" y="438.5" width="2" height="22.5" fill="#ff1010"/>
<rect x="521.0" y="433.4" width="2" height="27.6" fill="#ff1010"/>
<rect x="524.0" y="420.1" width="2" height="40.9" fill="#0b5e0b"/>
<rect x="528.0" y="403.0" width="2" height="58.0" fill="#0b5e0b"/>
<rect x="532.0" y="401.1" width="2" height="59.9" fill="#0b5e0b"/>
<rect x="536.0" y="393.4" width="2" height="67.6" fill="#ff1010"/>
<rect x="539.0" y="421.9" width="2" height="39.1" fill="#ff1010"/>
<rect x="543.0" y="433.4" width="2" height="27.6" fill="#ff1010"/>
<rect x="547.0" y="426.7" width="2" height="34.3" fill="#ff1010"/>
<rect x="550.0" y="429.7" width="2" height="31.3" fill="#0b5e0b"/>
<rect x="554.0" y="419.8" width="2" height="41.2" fill="#ff1010"/>
<rect x="558.0" y="416.9" width="2" height="44.1" fill="#ff1010"/>
<rect x="562.0" y="415.0" width="2" height="46.0" fill="#0b5e0b"/>
<rect x="565.0" y="391.3" width="2" height="69.7" fill="#0b5e0b"/>
<rect x="569.0" y="425.1" width="2" height="35.9" fill="#0b5e0b"/>
<rect x="573.0" y="432.3" width="2" height="28.7" fill="#0b5e0b"/>
<rect x="577.0" y="425.9" width="2" height="35.1" fill="#ff1010"/>
<rect x="580.0" y="425.9" width="2" height="35.1" fill="#ff1010"/>
<rect x="584.0" y="416.9" width="2" height="44.1" fill="#ff1010"/>
<rect x="588.0" y="426.7" width="2" height="34.3" fill="#0b5e0b"/>
<rect x="591.0" y="413.9" width="2" height="47.1" fill="#0b5e0b"/>
<rect x="595.0" y="417.9" width="2" height="43.1" fill="#ff1010"/>
<rect x="599.0" y="398.2" width="2" height="62.8" fill="#ff1010"/>
<rect x="603.0" y="424.6" width="2" height="36.4" fill="#ff1010"/>
<rect x="606.0" y="433.7" width="2" height="27.3" fill="#0b5e0b"/>
<rect x="610.0" y="428.9" width="2" height="32.1" fill="#0b5e0b"/>
<rect x="28" y="22" width="615" height="10" fill="#e0e0f8"/>
<rect x="28" y="364" width="615" height="12" fill="#e0e0f8"/>
<line x1="37.5" y1="22" x2="37.5" y2="32" stroke="#c8c4d8" stroke-width="1" stroke-dasharray="1,1" opacity="0.7"/>
<line x1="37.5" y1="364" x2="37.5" y2="376" stroke="#c8c4d8" stroke-width="1" stroke-dasharray="1,1" opacity="0.7"/>
<line x1="55.5" y1="22" x2="55.5" y2="32" stroke="#c8c4d8" stroke-width="1" stroke-dasharray="1,1" opacity="0.7"/>
<line x1="55.5" y1="364" x2="55.5" y2="376" stroke="#c8c4d8" stroke-width="1" stroke-dasharray="1,1" opacity="0.7"/>
<line x1="70.5" y1="22" x2="70.5" y2="32" stroke="#c8c4d8" stroke-width="1" stroke-dasharray="1,1" opacity="0.7"/>
<line x1="70.5" y1="364" x2="70.5" y2="376" stroke="#c8c4d8" stroke-width="1" stroke-dasharray="1,1" opacity="0.7"/>
<line x1="85.5" y1="22" x2="85.5" y2="32" stroke="#c8c4d8" stroke-width="1" stroke-dasharray="1,1" opacity="0.7"/>
<line x1="85.5" y1="364" x2="85.5" y2="376" stroke="#c8c4d8" stroke-width="1" stroke-dasharray="1,1" opacity="0.7"/>
<line x1="104.5" y1="22" x2="104.5" y2="32" stroke="#c8c4d8" stroke-width="1" stroke-dasharray="1,1" opacity="0.7"/>
<line x1="104.5" y1="364" x2="104.5" y2="376" stroke="#c8c4d8" stroke-width="1" stroke-dasharray="1,1" opacity="0.7"/>
<line x1="119.5" y1="22" x2="119.5" y2="32" stroke="#c8c4d8" stroke-width="1" stroke-dasharray="1,1" opacity="0.7"/>
<line x1="119.5" y1="364" x2="119.5" y2="376" stroke="#c8c4d8" stroke-width="1" stroke-dasharray="1,1" opacity="0.7"/>
<line x1="137.5" y1="22" x2="137.5" y2="32" stroke="#c8c4d8" stroke-width="1" stroke-dasharray="1,1" opacity="0.7"/>
<line x1="137.5" y1="364" x2="137.5" y2="376" stroke="#c8c4d8" stroke-width="1" stroke-dasharray="1,1" opacity="0.7"/>
<line x1="152.5" y1="22" x2="152.5" y2="32" stroke="#c8c4d8" stroke-width="1" stroke-dasharray="1,1" opacity="0.7"/>
<line x1="152.5" y1="364" x2="152.5" y2="376" stroke="#c8c4d8" stroke-width="1" stroke-dasharray="1,1" opacity="0.7"/>
<line x1="167.5" y1="22" x2="167.5" y2="32" stroke="#c8c4d8" stroke-width="1" stroke-dasharray="1,1" opacity="0.7"/>
<line x1="167.5" y1="364" x2="167.5" y2="376" stroke="#c8c4d8" stroke-width="1" stroke-dasharray="1,1" opacity="0.7"/>
<line x1="182.5" y1="22" x2="182.5" y2="32" stroke="#c8c4d8" stroke-width="1" stroke-dasharray="1,1" opacity="0.7"/>
<line x1="182.5" y1="364" x2="182.5" y2="376" stroke="#c8c4d8" stroke-width="1" stroke-dasharray="1,1" opacity="0.7"/>
<line x1="201.5" y1="22" x2="201.5" y2="32" stroke="#c8c4d8" stroke-width="1" stroke-dasharray="1,1" opacity="0.7"/>
<line x1="201.5" y1="364" x2="201.5" y2="376" stroke="#c8c4d8" stroke-width="1" stroke-dasharray="1,1" opacity="0.7"/>
<line x1="216.5" y1="22" x2="216.5" y2="32" stroke="#c8c4d8" stroke-width="1" stroke-dasharray="1,1" opacity="0.7"/>
<line x1="216.5" y1="364" x2="216.5" y2="376" stroke="#c8c4d8" stroke-width="1" stroke-dasharray="1,1" opacity="0.7"/>
<line x1="231.5" y1="22" x2="231.5" y2="32" stroke="#c8c4d8" stroke-width="1" stroke-dasharray="1,1" opacity="0.7"/>
<line x1="231.5" y1="364" x2="231.5" y2="376" stroke="#c8c4d8" stroke-width="1" stroke-dasharray="1,1" opacity="0.7"/>
<line x1="249.5" y1="22" x2="249.5" y2="32" stroke="#c8c4d8" stroke-width="1" stroke-dasharray="1,1" opacity="0.7"/>
<line x1="249.5" y1="364" x2="249.5" y2="376" stroke="#c8c4d8" stroke-width="1" stroke-dasharray="1,1" opacity="0.7"/>
<line x1="264.5" y1="22" x2="264.5" y2="32" stroke="#c8c4d8" stroke-width="1" stroke-dasharray="1,1" opacity="0.7"/>
<line x1="264.5" y1="364" x2="264.5" y2="376" stroke="#c8c4d8" stroke-width="1" stroke-dasharray="1,1" opacity="0.7"/>
<line x1="283.5" y1="22" x2="283.5" y2="32" stroke="#c8c4d8" stroke-width="1" stroke-dasharray="1,1" opacity="0.7"/>
<line x1="283.5" y1="364" x2="283.5" y2="376" stroke="#c8c4d8" stroke-width="1" stroke-dasharray="1,1" opacity="0.7"/>
<line x1="298.5" y1="22" x2="298.5" y2="32" stroke="#c8c4d8" stroke-width="1" stroke-dasharray="1,1" opacity="0.7"/>
<line x1="298.5" y1="364" x2="298.5" y2="376" stroke="#c8c4d8" stroke-width="1" stroke-dasharray="1,1" opacity="0.7"/>
<line x1="313.5" y1="22" x2="313.5" y2="32" stroke="#c8c4d8" stroke-width="1" stroke-dasharray="1,1" opacity="0.7"/>
<line x1="313.5" y1="364" x2="313.5" y2="376" stroke="#c8c4d8" stroke-width="1" stroke-dasharray="1,1" opacity="0.7"/>
<line x1="331.5" y1="22" x2="331.5" y2="32" stroke="#c8c4d8" stroke-width="1" stroke-dasharray="1,1" opacity="0.7"/>
<line x1="331.5" y1="364" x2="331.5" y2="376" stroke="#c8c4d8" stroke-width="1" stroke-dasharray="1,1" opacity="0.7"/>
<line x1="346.5" y1="22" x2="346.5" y2="32" stroke="#c8c4d8" stroke-width="1" stroke-dasharray="1,1" opacity="0.7"/>
<line x1="346.5" y1="364" x2="346.5" y2="376" stroke="#c8c4d8" stroke-width="1" stroke-dasharray="1,1" opacity="0.7"/>
<line x1="361.5" y1="22" x2="361.5" y2="32" stroke="#c8c4d8" stroke-width="1" stroke-dasharray="1,1" opacity="0.7"/>
<line x1="361.5" y1="364" x2="361.5" y2="376" stroke="#c8c4d8" stroke-width="1" stroke-dasharray="1,1" opacity="0.7"/>
<line x1="380.5" y1="22" x2="380.5" y2="32" stroke="#c8c4d8" stroke-width="1" stroke-dasharray="1,1" opacity="0.7"/>
<line x1="380.5" y1="364" x2="380.5" y2="376" stroke="#c8c4d8" stroke-width="1" stroke-dasharray="1,1" opacity="0.7"/>
<line x1="395.5" y1="22" x2="395.5" y2="32" stroke="#c8c4d8" stroke-width="1" stroke-dasharray="1,1" opacity="0.7"/>
<line x1="395.5" y1="364" x2="395.5" y2="376" stroke="#c8c4d8" stroke-width="1" stroke-dasharray="1,1" opacity="0.7"/>
<line x1="410.5" y1="22" x2="410.5" y2="32" stroke="#c8c4d8" stroke-width="1" stroke-dasharray="1,1" opacity="0.7"/>
<line x1="410.5" y1="364" x2="410.5" y2="376" stroke="#c8c4d8" stroke-width="1" stroke-dasharray="1,1" opacity="0.7"/>
<line x1="428.5" y1="22" x2="428.5" y2="32" stroke="#c8c4d8" stroke-width="1" stroke-dasharray="1,1" opacity="0.7"/>
<line x1="428.5" y1="364" x2="428.5" y2="376" stroke="#c8c4d8" stroke-width="1" stroke-dasharray="1,1" opacity="0.7"/>
<line x1="443.5" y1="22" x2="443.5" y2="32" stroke="#c8c4d8" stroke-width="1" stroke-dasharray="1,1" opacity="0.7"/>
<line x1="443.5" y1="364" x2="443.5" y2="376" stroke="#c8c4d8" stroke-width="1" stroke-dasharray="1,1" opacity="0.7"/>
<line x1="458.5" y1="22" x2="458.5" y2="32" stroke="#c8c4d8" stroke-width="1" stroke-dasharray="1,1" opacity="0.7"/>
<line x1="458.5" y1="364" x2="458.5" y2="376" stroke="#c8c4d8" stroke-width="1" stroke-dasharray="1,1" opacity="0.7"/>
<line x1="477.5" y1="22" x2="477.5" y2="32" stroke="#c8c4d8" stroke-width="1" stroke-dasharray="1,1" opacity="0.7"/>
<line x1="477.5" y1="364" x2="477.5" y2="376" stroke="#c8c4d8" stroke-width="1" stroke-dasharray="1,1" opacity="0.7"/>
<line x1="492.5" y1="22" x2="492.5" y2="32" stroke="#c8c4d8" stroke-width="1" stroke-dasharray="1,1" opacity="0.7"/>
<line x1="492.5" y1="364" x2="492.5" y2="376" stroke="#c8c4d8" stroke-width="1" stroke-dasharray="1,1" opacity="0.7"/>
<line x1="507.5" y1="22" x2="507.5" y2="32" stroke="#c8c4d8" stroke-width="1" stroke-dasharray="1,1" opacity="0.7"/>
<line x1="507.5" y1="364" x2="507.5" y2="376" stroke="#c8c4d8" stroke-width="1" stroke-dasharray="1,1" opacity="0.7"/>
<line x1="525.5" y1="22" x2="525.5" y2="32" stroke="#c8c4d8" stroke-width="1" stroke-dasharray="1,1" opacity="0.7"/>
<line x1="525.5" y1="364" x2="525.5" y2="376" stroke="#c8c4d8" stroke-width="1" stroke-dasharray="1,1" opacity="0.7"/>
<line x1="540.5" y1="22" x2="540.5" y2="32" stroke="#c8c4d8" stroke-width="1" stroke-dasharray="1,1" opacity="0.7"/>
<line x1="540.5" y1="364" x2="540.5" y2="376" stroke="#c8c4d8" stroke-width="1" stroke-dasharray="1,1" opacity="0.7"/>
<line x1="555.5" y1="22" x2="555.5" y2="32" stroke="#c8c4d8" stroke-width="1" stroke-dasharray="1,1" opacity="0.7"/>
<line x1="555.5" y1="364" x2="555.5" y2="376" stroke="#c8c4d8" stroke-width="1" stroke-dasharray="1,1" opacity="0.7"/>
<line x1="574.5" y1="22" x2="574.5" y2="32" stroke="#c8c4d8" stroke-width="1" stroke-dasharray="1,1" opacity="0.7"/>
<line x1="574.5" y1="364" x2="574.5" y2="376" stroke="#c8c4d8" stroke-width="1" stroke-dasharray="1,1" opacity="0.7"/>
<line x1="589.5" y1="22" x2="589.5" y2="32" stroke="#c8c4d8" stroke-width="1" stroke-dasharray="1,1" opacity="0.7"/>
<line x1="589.5" y1="364" x2="589.5" y2="376" stroke="#c8c4d8" stroke-width="1" stroke-dasharray="1,1" opacity="0.7"/>
<line x1="604.5" y1="22" x2="604.5" y2="32" stroke="#c8c4d8" stroke-width="1" stroke-dasharray="1,1" opacity="0.7"/>
<line x1="604.5" y1="364" x2="604.5" y2="376" stroke="#c8c4d8" stroke-width="1" stroke-dasharray="1,1" opacity="0.7"/>
<rect x="189" y="366" width="2" height="12" fill="#ff1010"/>
<rect x="32" y="23" width="8" height="8" fill="#000"/>
<rect x="32.5" y="367.5" width="7" height="7" fill="#0b5e0b" stroke="#000" stroke-width="1"/>
<rect x="126.5" y="367.5" width="7" height="7" fill="#a020f0" stroke="#000" stroke-width="1"/>
<text x="44.5" y="31" font-family="Liberation Sans" font-size="10.5" textLength="213" lengthAdjust="spacingAndGlyphs" fill="#000">Op:1,179.9, Hi:1,203.1, Lo:1,172.7, Cl:1,200.9</text>
<text x="43.5" y="374.8" font-family="Liberation Sans" font-size="10.5" textLength="58.5" lengthAdjust="spacingAndGlyphs" fill="#000">Vol: 132,110</text>
<text x="138" y="374.8" font-family="Liberation Sans" font-size="10.5" textLength="105" lengthAdjust="spacingAndGlyphs" fill="#000">Open Interest: 309,954</text>
<rect x="27" y="19" width="617" height="2" fill="#2a2a2a"/>
<rect x="27" y="19" width="1" height="443" fill="#2a2a2a"/>
<rect x="643" y="19" width="1" height="443" fill="#2a2a2a"/>
<rect x="27" y="362" width="617" height="2" fill="#000"/>
<rect x="27" y="460.7" width="617" height="1.1" fill="#000"/>
<rect x="638" y="19" width="5" height="1" fill="#2a2a2a"/>
<rect x="638" y="44" width="5" height="1" fill="#2a2a2a"/>
<rect x="638" y="68" width="5" height="1" fill="#2a2a2a"/>
<rect x="638" y="93" width="5" height="1" fill="#2a2a2a"/>
<rect x="638" y="117" width="5" height="1" fill="#2a2a2a"/>
<rect x="638" y="142" width="5" height="1" fill="#2a2a2a"/>
<rect x="638" y="166" width="5" height="1" fill="#2a2a2a"/>
<rect x="638" y="191" width="5" height="1" fill="#2a2a2a"/>
<rect x="638" y="215" width="5" height="1" fill="#2a2a2a"/>
<rect x="638" y="240" width="5" height="1" fill="#2a2a2a"/>
<rect x="638" y="264" width="5" height="1" fill="#2a2a2a"/>
<rect x="638" y="289" width="5" height="1" fill="#2a2a2a"/>
<rect x="638" y="313" width="5" height="1" fill="#2a2a2a"/>
<rect x="638" y="337" width="5" height="1" fill="#2a2a2a"/>
<rect x="638" y="362" width="5" height="1" fill="#2a2a2a"/>
<rect x="638" y="382" width="5" height="1" fill="#2a2a2a"/>
<rect x="638" y="402" width="5" height="1" fill="#2a2a2a"/>
<rect x="638" y="422" width="5" height="1" fill="#2a2a2a"/>
<rect x="638" y="441" width="5" height="1" fill="#2a2a2a"/>
<rect x="28" y="388" width="4" height="1" fill="#2a2a2a"/>
<rect x="28" y="412" width="4" height="1" fill="#2a2a2a"/>
<rect x="28" y="436" width="4" height="1" fill="#2a2a2a"/>
<rect x="37" y="461" width="1.2" height="3" fill="#000"/>
<rect x="85" y="461" width="1.2" height="3" fill="#000"/>
<rect x="137" y="461" width="1.2" height="3" fill="#000"/>
<rect x="182" y="461" width="1.2" height="3" fill="#000"/>
<rect x="231" y="461" width="1.2" height="3" fill="#000"/>
<rect x="283" y="461" width="1.2" height="3" fill="#000"/>
<rect x="331" y="461" width="1.2" height="3" fill="#000"/>
<rect x="380" y="461" width="1.2" height="3" fill="#000"/>
<rect x="428" y="461" width="1.2" height="3" fill="#000"/>
<rect x="477" y="461" width="1.2" height="3" fill="#000"/>
<rect x="525" y="461" width="1.2" height="3" fill="#000"/>
<rect x="574" y="461" width="1.2" height="3" fill="#000"/>
<text x="647.3" y="24.2" font-family="Liberation Sans" font-size="11" textLength="33.6" lengthAdjust="spacingAndGlyphs" fill="#000">1,800.0</text>
<text x="647.3" y="48.7" font-family="Liberation Sans" font-size="11" textLength="33.6" lengthAdjust="spacingAndGlyphs" fill="#000">1,750.0</text>
<text x="647.3" y="73.2" font-family="Liberation Sans" font-size="11" textLength="33.6" lengthAdjust="spacingAndGlyphs" fill="#000">1,700.0</text>
<text x="647.3" y="97.6" font-family="Liberation Sans" font-size="11" textLength="33.6" lengthAdjust="spacingAndGlyphs" fill="#000">1,650.0</text>
<text x="647.3" y="122.1" font-family="Liberation Sans" font-size="11" textLength="33.6" lengthAdjust="spacingAndGlyphs" fill="#000">1,600.0</text>
<text x="647.3" y="146.5" font-family="Liberation Sans" font-size="11" textLength="33.6" lengthAdjust="spacingAndGlyphs" fill="#000">1,550.0</text>
<text x="647.3" y="171.0" font-family="Liberation Sans" font-size="11" textLength="33.6" lengthAdjust="spacingAndGlyphs" fill="#000">1,500.0</text>
<text x="647.3" y="195.5" font-family="Liberation Sans" font-size="11" textLength="33.6" lengthAdjust="spacingAndGlyphs" fill="#000">1,450.0</text>
<text x="647.3" y="219.9" font-family="Liberation Sans" font-size="11" textLength="33.6" lengthAdjust="spacingAndGlyphs" fill="#000">1,400.0</text>
<text x="647.3" y="244.4" font-family="Liberation Sans" font-size="11" textLength="33.6" lengthAdjust="spacingAndGlyphs" fill="#000">1,350.0</text>
<text x="647.3" y="268.8" font-family="Liberation Sans" font-size="11" textLength="33.6" lengthAdjust="spacingAndGlyphs" fill="#000">1,300.0</text>
<text x="647.3" y="293.3" font-family="Liberation Sans" font-size="11" textLength="33.6" lengthAdjust="spacingAndGlyphs" fill="#000">1,250.0</text>
<text x="647.3" y="317.8" font-family="Liberation Sans" font-size="11" textLength="33.6" lengthAdjust="spacingAndGlyphs" fill="#000">1,200.0</text>
<text x="647.3" y="342.2" font-family="Liberation Sans" font-size="11" textLength="33.6" lengthAdjust="spacingAndGlyphs" fill="#000">1,150.0</text>
<text x="647.3" y="366.7" font-family="Liberation Sans" font-size="11" textLength="33.6" lengthAdjust="spacingAndGlyphs" fill="#000">1,100.0</text>
<rect x="647" y="308" width="35" height="12" fill="#000"/>
<text x="647.5" y="318" font-family="Liberation Sans" font-size="11" textLength="33.6" lengthAdjust="spacingAndGlyphs" fill="#fff">1,200.9</text>
<text x="646" y="387.1" font-family="Liberation Sans" font-size="11" textLength="24.2" lengthAdjust="spacingAndGlyphs" fill="#000">500K</text>
<text x="646" y="406.6" font-family="Liberation Sans" font-size="11" textLength="24.2" lengthAdjust="spacingAndGlyphs" fill="#000">450K</text>
<text x="646" y="426.1" font-family="Liberation Sans" font-size="11" textLength="24.2" lengthAdjust="spacingAndGlyphs" fill="#000">400K</text>
<text x="646" y="445.6" font-family="Liberation Sans" font-size="11" textLength="24.2" lengthAdjust="spacingAndGlyphs" fill="#000">350K</text>
<text x="646" y="465.1" font-family="Liberation Sans" font-size="11" textLength="24.2" lengthAdjust="spacingAndGlyphs" fill="#000">300K</text>
<text x="1.4" y="368.2" font-family="Liberation Sans" font-size="11" textLength="24.2" lengthAdjust="spacingAndGlyphs" fill="#000">400K</text>
<text x="1.4" y="392.6" font-family="Liberation Sans" font-size="11" textLength="24.2" lengthAdjust="spacingAndGlyphs" fill="#000">300K</text>
<text x="1.4" y="417.0" font-family="Liberation Sans" font-size="11" textLength="24.2" lengthAdjust="spacingAndGlyphs" fill="#000">200K</text>
<text x="1.4" y="441.4" font-family="Liberation Sans" font-size="11" textLength="24.2" lengthAdjust="spacingAndGlyphs" fill="#000">100K</text>
<text x="13.4" y="465.8" font-family="Liberation Sans" font-size="11" textLength="12.2" lengthAdjust="spacingAndGlyphs" fill="#000">0K</text>
<text x="37.5" y="475" font-family="Liberation Sans" font-size="11" font-weight="bold" text-anchor="middle" fill="#000">Jul 12</text>
<text x="85.5" y="475" font-family="Liberation Sans" font-size="11" font-weight="bold" text-anchor="middle" fill="#000">Oct</text>
<text x="137.5" y="475" font-family="Liberation Sans" font-size="11" font-weight="bold" text-anchor="middle" fill="#000">Jan 13</text>
<text x="182.5" y="475" font-family="Liberation Sans" font-size="11" font-weight="bold" text-anchor="middle" fill="#000">Apr</text>
<text x="231.5" y="475" font-family="Liberation Sans" font-size="11" font-weight="bold" text-anchor="middle" fill="#000">Jul</text>
<text x="283.5" y="475" font-family="Liberation Sans" font-size="11" font-weight="bold" text-anchor="middle" fill="#000">Oct</text>
<text x="331.5" y="475" font-family="Liberation Sans" font-size="11" font-weight="bold" text-anchor="middle" fill="#000">Jan 14</text>
<text x="380.5" y="475" font-family="Liberation Sans" font-size="11" font-weight="bold" text-anchor="middle" fill="#000">Apr</text>
<text x="428.5" y="475" font-family="Liberation Sans" font-size="11" font-weight="bold" text-anchor="middle" fill="#000">Jul</text>
<text x="477.5" y="475" font-family="Liberation Sans" font-size="11" font-weight="bold" text-anchor="middle" fill="#000">Oct</text>
<text x="525.5" y="475" font-family="Liberation Sans" font-size="11" font-weight="bold" text-anchor="middle" fill="#000">Jan 15</text>
<text x="574.5" y="475" font-family="Liberation Sans" font-size="11" font-weight="bold" text-anchor="middle" fill="#000">Apr</text>
<text x="9.6" y="12.4" font-family="Liberation Sans" font-size="12.5" font-weight="bold" textLength="237.6" lengthAdjust="spacingAndGlyphs" fill="#000">GC - Gold - Weekly Nearest OHLC Chart</text>
<text x="247.2" y="64.00" font-family="Liberation Sans" font-size="13.6" font-weight="bold" textLength="336.8" lengthAdjust="spacingAndGlyphs" fill="#0c0c1c" stroke="#0c0c1c" stroke-width="0.3" xml:space="preserve">A rally did develop from  the previous week, but it</text>
<text x="247.2" y="82.00" font-family="Liberation Sans" font-size="13.6" font-weight="bold" textLength="350.7" lengthAdjust="spacingAndGlyphs" fill="#0c0c1c" stroke="#0c0c1c" stroke-width="0.3" xml:space="preserve">stopped at 1204+ resistance from 4 weeks ago.  Price</text>
<text x="247.2" y="101.00" font-family="Liberation Sans" font-size="13.6" font-weight="bold" textLength="330.4" lengthAdjust="spacingAndGlyphs" fill="#0c0c1c" stroke="#0c0c1c" stroke-width="0.3" xml:space="preserve">remains in the middle of a protracted TR, and the</text>
<text x="247.2" y="119.00" font-family="Liberation Sans" font-size="13.6" font-weight="bold" textLength="339.2" lengthAdjust="spacingAndGlyphs" fill="#0c0c1c" stroke="#0c0c1c" stroke-width="0.3" xml:space="preserve">slight edge to buyers last week has dissipated.  The</text>
<text x="247.2" y="138.00" font-family="Liberation Sans" font-size="13.6" font-weight="bold" textLength="315.4" lengthAdjust="spacingAndGlyphs" fill="#0c0c1c" stroke="#0c0c1c" stroke-width="0.3" xml:space="preserve">rally could extend, but staying power would be</text>
<text x="247.2" y="157.00" font-family="Liberation Sans" font-size="13.6" font-weight="bold" textLength="334.8" lengthAdjust="spacingAndGlyphs" fill="#0c0c1c" stroke="#0c0c1c" stroke-width="0.3" xml:space="preserve">questionable while in the TR within a down trend.</text>
<text x="247.2" y="175.00" font-family="Liberation Sans" font-size="13.6" font-weight="bold" textLength="342.8" lengthAdjust="spacingAndGlyphs" fill="#0c0c1c" stroke="#0c0c1c" stroke-width="0.3" xml:space="preserve">There is still the issue of a series of lower highs, and</text>
<text x="247.2" y="194.00" font-family="Liberation Sans" font-size="13.6" font-weight="bold" textLength="344.2" lengthAdjust="spacingAndGlyphs" fill="#0c0c1c" stroke="#0c0c1c" stroke-width="0.3" xml:space="preserve">buyers have not challenged any of the recent swing</text>
<text x="290.5" y="212.00" font-family="Liberation Sans" font-size="13.6" font-weight="bold" textLength="38.0" lengthAdjust="spacingAndGlyphs" fill="#0c0c1c" stroke="#0c0c1c" stroke-width="0.3" xml:space="preserve">highs.</text>
</svg>
</body></html>
